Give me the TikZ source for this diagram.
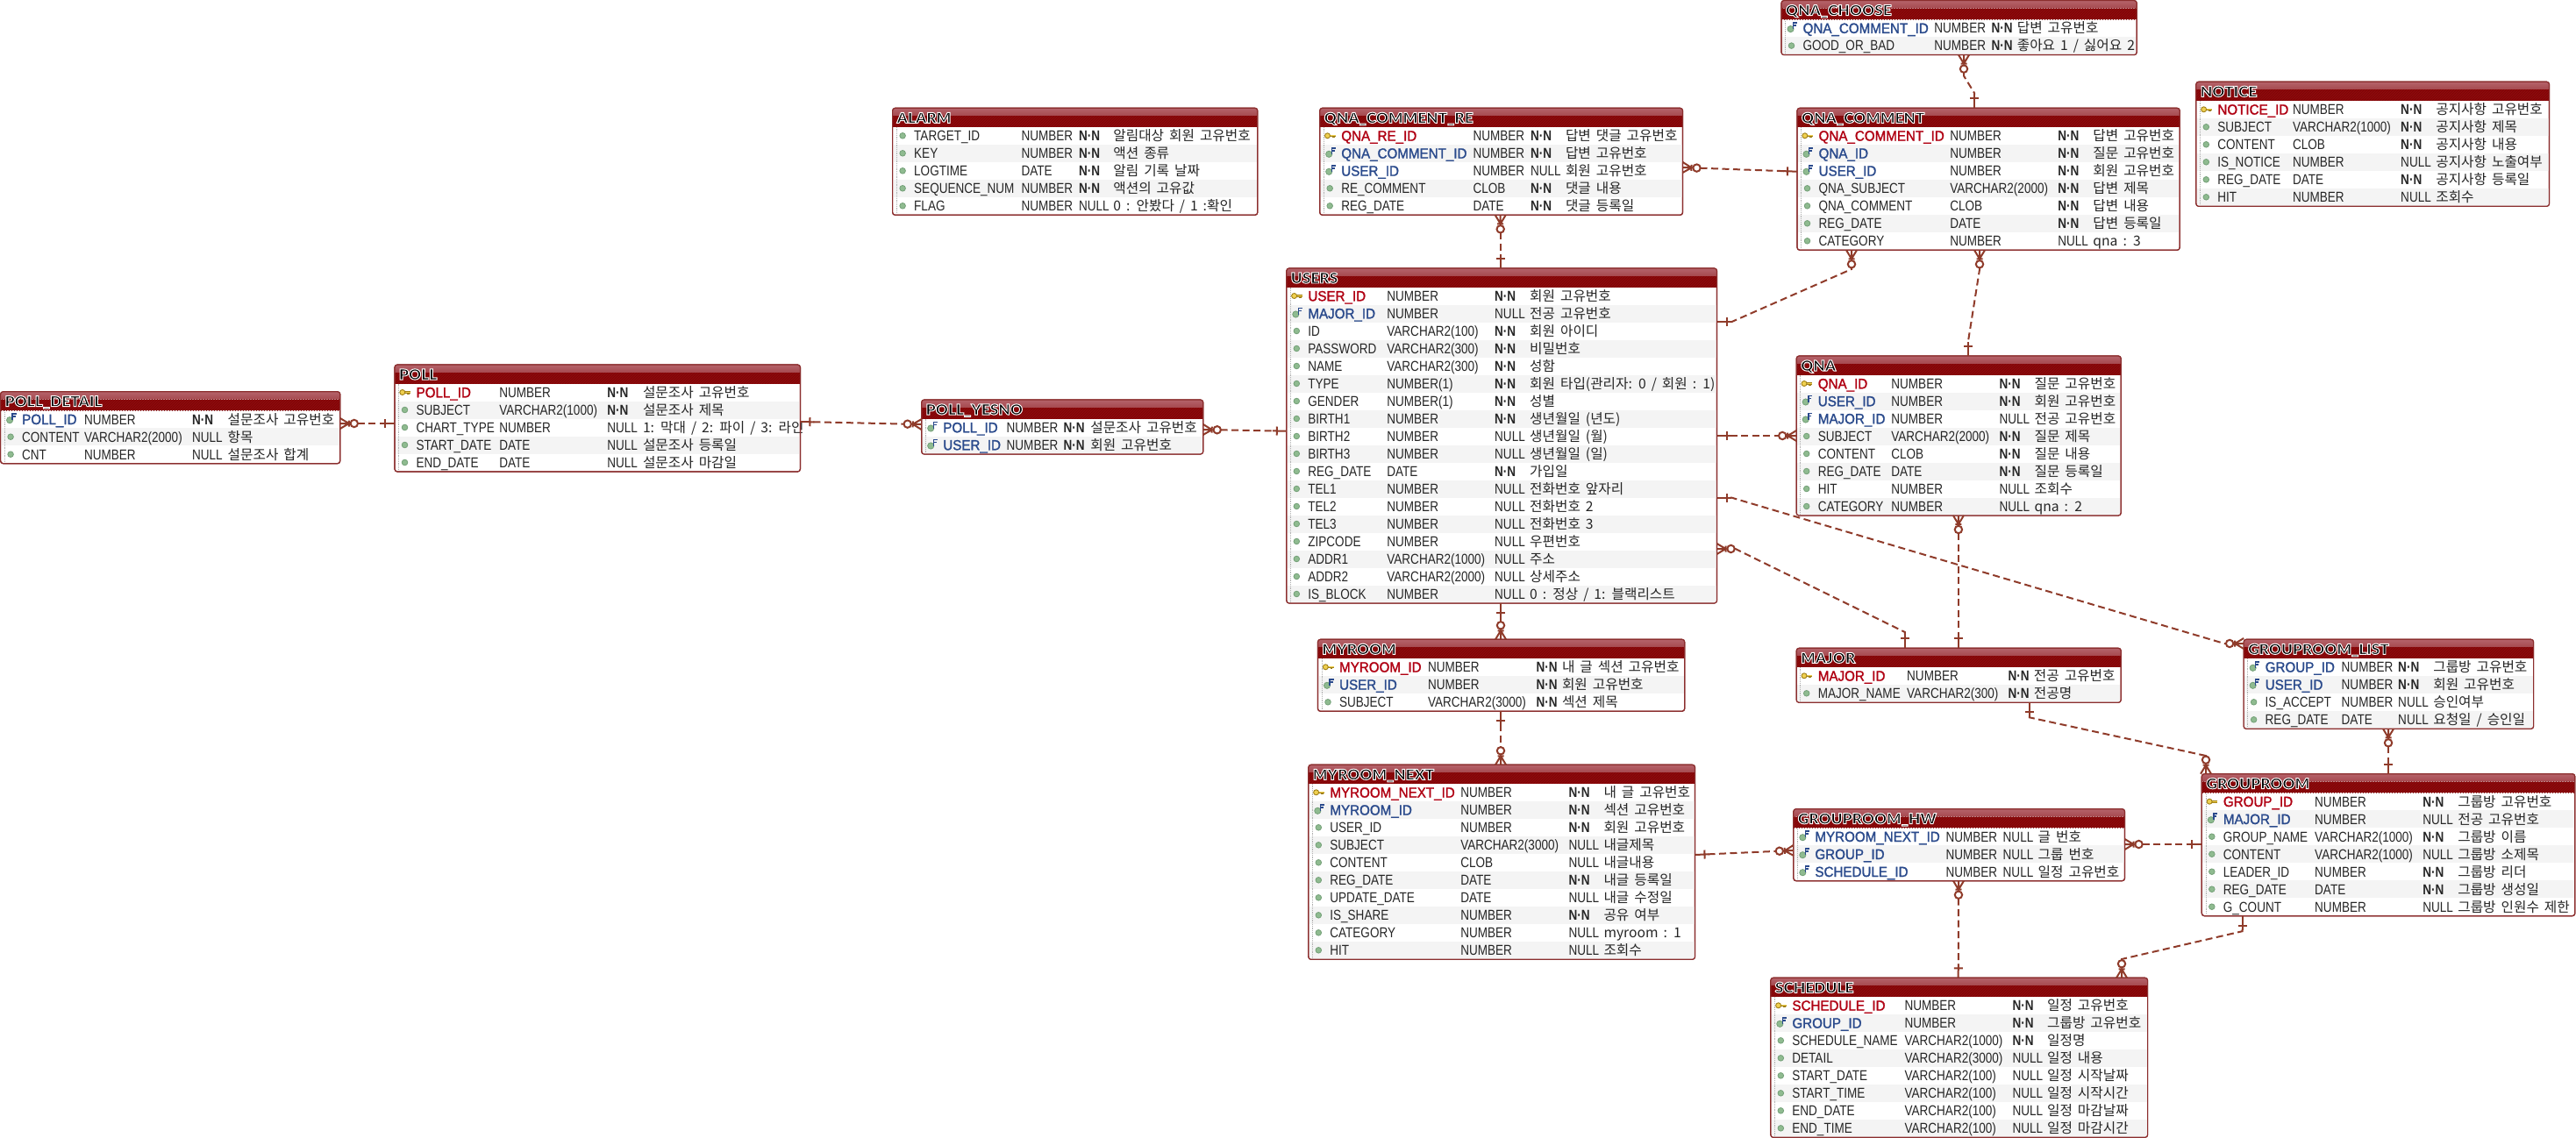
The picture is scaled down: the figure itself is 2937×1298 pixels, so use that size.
\documentclass[tikz,border=0pt]{standalone}
\usepackage{fontspec}
\usepackage{tikz}
\usetikzlibrary{patterns}
\setmainfont{Liberation Sans}
\newfontfamily\colfont[FakeStretch=.83]{Liberation Sans}
\newfontfamily\keyfont[FakeStretch=.93,FakeBold=1.5]{Liberation Sans}
\newfontfamily\korfont[WordSpace=1.7]{Noto Sans CJK KR}
\newfontfamily\titlefont[FakeStretch=1.05,FakeBold=6]{Lato Black}

\definecolor{tableline}{HTML}{8B2E2E}
\definecolor{relline}{HTML}{8F3B2A}
\definecolor{headtop}{HTML}{B5636A}
\definecolor{headmid}{HTML}{A5484E}
\definecolor{headdark}{HTML}{8E0A0C}
\definecolor{headhatch}{HTML}{7A0608}
\definecolor{rowgrey}{HTML}{F4F4F4}
\definecolor{pkred}{HTML}{B00012}
\definecolor{fkblue}{HTML}{2A4A8C}
\definecolor{ballgreen}{HTML}{8FBB90}
\definecolor{balledge}{HTML}{74A078}
\definecolor{keyyellow}{HTML}{EFD050}
\definecolor{keyedge}{HTML}{A08018}
\definecolor{rowdots}{HTML}{B0B0B0}

\newcommand{\NN}{{\bfseries N·N}}

% end marks of the relationship lines
\pgfdeclarearrow{
	name = erdone,
	setup code = {\pgfarrowssettipend{0pt}\pgfarrowssetlineend{-15pt}\pgfarrowssetvisualbackend{-15pt}\pgfarrowssetbackend{-15pt}},
	drawing code = {
		\pgfsetlinewidth{2pt}
		\pgfsetdash{}{0pt}
		\pgfpathmoveto{\pgfqpoint{0pt}{0pt}}\pgfpathlineto{\pgfqpoint{-16pt}{0pt}}
		\pgfpathmoveto{\pgfqpoint{-11pt}{5pt}}\pgfpathlineto{\pgfqpoint{-11pt}{-5pt}}
		\pgfusepathqstroke
	}
}
\pgfdeclarearrow{
	name = erdmany,
	setup code = {\pgfarrowssettipend{0pt}\pgfarrowssetlineend{-20pt}\pgfarrowssetvisualbackend{-20pt}\pgfarrowssetbackend{-20pt}},
	drawing code = {
		\pgfsetlinewidth{2pt}
		\pgfsetdash{}{0pt}
		\pgfpathmoveto{\pgfqpoint{0pt}{6pt}}\pgfpathlineto{\pgfqpoint{-10pt}{0pt}}\pgfpathlineto{\pgfqpoint{0pt}{-6pt}}
		\pgfpathmoveto{\pgfqpoint{0pt}{0pt}}\pgfpathlineto{\pgfqpoint{-11pt}{0pt}}
		\pgfpathmoveto{\pgfqpoint{-10pt}{3.5pt}}\pgfpathlineto{\pgfqpoint{-10pt}{-3.5pt}}
		\pgfusepathqstroke
		\pgfsetfillcolor{white}
		\pgfpathcircle{\pgfqpoint{-16pt}{0pt}}{4.2pt}
		\pgfusepathqfillstroke
	}
}

% icons in front of the columns
\newcommand{\iconcol}[2]{\fill[fill=ballgreen, draw=balledge, line width=.8pt] (#1+11.5,#2) circle (3.3);}
\newcommand{\iconfk}[2]{
	\fill[fill=ballgreen, draw=balledge, line width=.8pt] (#1+10.5,#2+1) circle (3.6);
	\draw[fkblue, line width=1.5pt] (#1+13.6,#2+1) -- (#1+13.6,#2-6) -- (#1+18,#2-6) (#1+13.6,#2-3) -- (#1+17,#2-3);
}
\newcommand{\iconpk}[2]{
	\draw[draw=keyedge, line width=2.6pt] (#1+10,#2) -- (#1+18,#2) (#1+15.5,#2) -- (#1+15.5,#2+2.2);
	\draw[draw=keyyellow, line width=1.1pt] (#1+10,#2) -- (#1+18,#2);
	\draw[fill=keyyellow, draw=keyedge, line width=.9pt] (#1+8.8,#2) circle (3);
}

% node name, title, left, top, right, x of type, x of null, x of comment, rows
\newcommand{\erdtable}[9]{
	\foreach \k/\n/\t/\u/\c [count=\i] in {#9} {\xdef\rowtotal{\i}}
	\pgfmathsetmacro\tablew{#5-#3}
	\pgfmathsetmacro\tableh{22+20*\rowtotal}
	\pgfmathsetmacro\headend{#4+21.5}
	\node[table box, minimum width=\tablew pt, minimum height=\tableh pt] (#1) at (#3,#4) {};
	\foreach \k/\n/\t/\u/\c [count=\i] in {#9} {
		\pgfmathsetmacro\rowtop{\headend+20*(\i-1)}
		\pgfmathsetmacro\rowmid{\rowtop+10}
		\pgfmathsetmacro\rowbase{\rowtop+15.8}
		\ifodd\i\else
			\fill[rowgrey] (#3+1,\rowtop) rectangle (#5-1,\rowtop+20);
		\fi
		\csname icon\k\endcsname{#3}{\rowmid}
		\node[\k name] (#1 n\i) at (#3+23.6,\rowbase) {\n};
		\node[col text] (#1 t\i) at (#6,\rowbase) {\t};
		\node[col text] (#1 u\i) at (#7,\rowbase) {\u};
		\node[kor text] (#1 c\i) at (#8,\rowbase) {\c};
	}
	\draw[rowdots, densely dotted, line width=.8pt] (#3+4.6,\headend) -- (#3+4.6,#4+\tableh-2);
	\path[top color=headtop, bottom color=headmid] (#3,#4+9) [rounded corners=3] -- (#3,#4) -- (#5,#4) [sharp corners] -- (#5,#4+9) -- cycle;
	\fill[headdark] (#3,#4+9) rectangle (#5,\headend);
	\fill[pattern=north east lines, pattern color=headhatch] (#3,#4+9) rectangle (#5,\headend);
	\node[title text] (#1 title) at (#3+4,#4+17) {\special{pdf:code 1 1 1 RG}#2};
	\draw[tableline, line width=1.2pt, rounded corners=3] (#3,#4) rectangle (#5,#4+\tableh);
}

\begin{document}
\begin{tikzpicture}[x=1pt, y=-1pt, line width=2pt]

	\tikzstyle{table box} = [draw=tableline, line width=1.2pt, rectangle, rounded corners=3, fill=white, anchor=north west, inner sep=0pt, outer sep=0pt]
	\tikzstyle{col text} = [anchor=base west, inner sep=0pt, font=\colfont\fontsize{16.3}{18}\selectfont, text=black!85]
	\tikzstyle{kor text} = [anchor=base west, inner sep=0pt, font=\korfont\fontsize{15.7}{18}\selectfont, text=black!85]
	\tikzstyle{colname} = [col text]
	\tikzstyle{pkname} = [col text, font=\keyfont\fontsize{16.3}{18}\selectfont, text=pkred]
	\tikzstyle{fkname} = [col text, font=\keyfont\fontsize{16.3}{18}\selectfont, text=fkblue]
	\tikzstyle{title text} = [anchor=base west, inner sep=0pt, text=black, font=\titlefont\fontsize{16.5}{18}\selectfont]
	\tikzstyle{line} = [draw=relline, line width=2pt, dash pattern=on 8pt off 4.5pt]

	\useasboundingbox (0,0) rectangle (2937,1298);

	\erdtable{poll detail}{POLL\_DETAIL}{0.6}{446.7}{387.8}{95}{218}{258.7}{
		fk/POLL\_ID/NUMBER/\NN/설문조사 고유번호,
		col/CONTENT/VARCHAR2(2000)/NULL/항목,
		col/CNT/NUMBER/NULL/설문조사 합계}
	\erdtable{poll}{POLL}{450}{416}{912.4}{568.3}{691.3}{732}{
		pk/POLL\_ID/NUMBER/\NN/설문조사 고유번호,
		col/SUBJECT/VARCHAR2(1000)/\NN/설문조사 제목,
		col/CHART\_TYPE/NUMBER/NULL/{1: 막대 / 2: 파이 / 3: 라인},
		col/START\_DATE/DATE/NULL/설문조사 등록일,
		col/END\_DATE/DATE/NULL/설문조사 마감일}
	\erdtable{poll yesno}{POLL\_YESNO}{1050.7}{456}{1371.7}{1146.7}{1211.7}{1242.3}{
		fk/POLL\_ID/NUMBER/\NN/설문조사 고유번호,
		fk/USER\_ID/NUMBER/\NN/회원 고유번호}
	\erdtable{alarm}{ALARM}{1017.6}{123.3}{1433.8}{1163.6}{1229}{1268.4}{
		col/TARGET\_ID/NUMBER/\NN/알림대상 회원 고유번호,
		col/KEY/NUMBER/\NN/액션 종류,
		col/LOGTIME/DATE/\NN/알림 기록 날짜,
		col/SEQUENCE\_NUM/NUMBER/\NN/액션의 고유값,
		col/FLAG/NUMBER/NULL/{0 : 안봤다 / 1 :확인}}
	\erdtable{qna comment re}{QNA\_COMMENT\_RE}{1504.7}{123.3}{1918.5}{1678.6}{1744}{1784}{
		pk/QNA\_RE\_ID/NUMBER/\NN/답변 댓글 고유번호,
		fk/QNA\_COMMENT\_ID/NUMBER/\NN/답변 고유번호,
		fk/USER\_ID/NUMBER/NULL/회원 고유번호,
		col/RE\_COMMENT/CLOB/\NN/댓글 내용,
		col/REG\_DATE/DATE/\NN/댓글 등록일}
	\erdtable{qna choose}{QNA\_CHOOSE}{2031}{0.6}{2436.2}{2204.4}{2269.5}{2298.8}{
		fk/QNA\_COMMENT\_ID/NUMBER/\NN/답변 고유번호,
		col/GOOD\_OR\_BAD/NUMBER/\NN/{좋아요 1 / 싫어요 2}}
	\erdtable{qna comment}{QNA\_COMMENT}{2049}{123.3}{2485.2}{2222.3}{2345.4}{2385.4}{
		pk/QNA\_COMMENT\_ID/NUMBER/\NN/답변 고유번호,
		fk/QNA\_ID/NUMBER/\NN/질문 고유번호,
		fk/USER\_ID/NUMBER/\NN/회원 고유번호,
		col/QNA\_SUBJECT/VARCHAR2(2000)/\NN/답변 제목,
		col/QNA\_COMMENT/CLOB/\NN/답변 내용,
		col/REG\_DATE/DATE/\NN/답변 등록일,
		col/CATEGORY/NUMBER/NULL/qna : 3}
	\erdtable{notice}{NOTICE}{2503.8}{93.3}{2906.5}{2613.1}{2736.2}{2776.3}{
		pk/NOTICE\_ID/NUMBER/\NN/공지사항 고유번호,
		col/SUBJECT/VARCHAR2(1000)/\NN/공지사항 제목,
		col/CONTENT/CLOB/\NN/공지사항 내용,
		col/IS\_NOTICE/NUMBER/NULL/공지사항 노출여부,
		col/REG\_DATE/DATE/\NN/공지사항 등록일,
		col/HIT/NUMBER/NULL/조회수}
	\erdtable{users}{USERS}{1466.8}{306}{1957.5}{1580.4}{1703.2}{1743.2}{
		pk/USER\_ID/NUMBER/\NN/회원 고유번호,
		fk/MAJOR\_ID/NUMBER/NULL/전공 고유번호,
		col/ID/VARCHAR2(100)/\NN/회원 아이디,
		col/PASSWORD/VARCHAR2(300)/\NN/비밀번호,
		col/NAME/VARCHAR2(300)/\NN/성함,
		col/TYPE/NUMBER(1)/\NN/{회원 타입(관리자: 0 / 회원 : 1)},
		col/GENDER/NUMBER(1)/\NN/성별,
		col/BIRTH1/NUMBER/\NN/생년월일 (년도),
		col/BIRTH2/NUMBER/NULL/생년월일 (월),
		col/BIRTH3/NUMBER/NULL/생년월일 (일),
		col/REG\_DATE/DATE/\NN/가입일,
		col/TEL1/NUMBER/NULL/전화번호 앞자리,
		col/TEL2/NUMBER/NULL/전화번호 2,
		col/TEL3/NUMBER/NULL/전화번호 3,
		col/ZIPCODE/NUMBER/NULL/우편번호,
		col/ADDR1/VARCHAR2(1000)/NULL/주소,
		col/ADDR2/VARCHAR2(2000)/NULL/상세주소,
		col/IS\_BLOCK/NUMBER/NULL/{0 : 정상 / 1: 블랙리스트}}
	\erdtable{qna}{QNA}{2048.2}{406}{2418.2}{2155.4}{2278.6}{2318.6}{
		pk/QNA\_ID/NUMBER/\NN/질문 고유번호,
		fk/USER\_ID/NUMBER/\NN/회원 고유번호,
		fk/MAJOR\_ID/NUMBER/NULL/전공 고유번호,
		col/SUBJECT/VARCHAR2(2000)/\NN/질문 제목,
		col/CONTENT/CLOB/\NN/질문 내용,
		col/REG\_DATE/DATE/\NN/질문 등록일,
		col/HIT/NUMBER/NULL/조회수,
		col/CATEGORY/NUMBER/NULL/qna : 2}
	\erdtable{major}{MAJOR}{2048.2}{739.3}{2418.2}{2173.2}{2288.6}{2317.9}{
		pk/MAJOR\_ID/NUMBER/\NN/전공 고유번호,
		col/MAJOR\_NAME/VARCHAR2(300)/\NN/전공명}
	\erdtable{myroom}{MYROOM}{1502.5}{729.3}{1920.7}{1627.1}{1750.7}{1780}{
		pk/MYROOM\_ID/NUMBER/\NN/내 글 섹션 고유번호,
		fk/USER\_ID/NUMBER/\NN/회원 고유번호,
		col/SUBJECT/VARCHAR2(3000)/\NN/섹션 제목}
	\erdtable{myroom next}{MYROOM\_NEXT}{1491.8}{872.3}{1932.5}{1664.3}{1787.5}{1827.5}{
		pk/MYROOM\_NEXT\_ID/NUMBER/\NN/내 글 고유번호,
		fk/MYROOM\_ID/NUMBER/\NN/섹션 고유번호,
		col/USER\_ID/NUMBER/\NN/회원 고유번호,
		col/SUBJECT/VARCHAR2(3000)/NULL/내글제목,
		col/CONTENT/CLOB/NULL/내글내용,
		col/REG\_DATE/DATE/\NN/내글 등록일,
		col/UPDATE\_DATE/DATE/NULL/내글 수정일,
		col/IS\_SHARE/NUMBER/\NN/공유 여부,
		col/CATEGORY/NUMBER/NULL/myroom : 1,
		col/HIT/NUMBER/NULL/조회수}
	\erdtable{grouproom list}{GROUPROOM\_LIST}{2558.1}{729.3}{2888.6}{2668.7}{2733.2}{2773.3}{
		fk/GROUP\_ID/NUMBER/\NN/그룹방 고유번호,
		fk/USER\_ID/NUMBER/\NN/회원 고유번호,
		col/IS\_ACCEPT/NUMBER/NULL/승인여부,
		col/REG\_DATE/DATE/NULL/{요청일 / 승인일}}
	\erdtable{grouproom}{GROUPROOM}{2510.3}{882.7}{2935.8}{2638.2}{2761.3}{2801.3}{
		pk/GROUP\_ID/NUMBER/\NN/그룹방 고유번호,
		fk/MAJOR\_ID/NUMBER/NULL/전공 고유번호,
		col/GROUP\_NAME/VARCHAR2(1000)/\NN/그룹방 이름,
		col/CONTENT/VARCHAR2(1000)/NULL/그룹방 소제목,
		col/LEADER\_ID/NUMBER/\NN/그룹방 리더,
		col/REG\_DATE/DATE/\NN/그룹방 생성일,
		col/G\_COUNT/NUMBER/NULL/그룹방 인원수 제한}
	\erdtable{grouproom hw}{GROUPROOM\_HW}{2044.8}{922.7}{2422.5}{2217.5}{2282.7}{2322.7}{
		fk/MYROOM\_NEXT\_ID/NUMBER/NULL/글 번호,
		fk/GROUP\_ID/NUMBER/NULL/그룹 번호,
		fk/SCHEDULE\_ID/NUMBER/NULL/일정 고유번호}
	\erdtable{schedule}{SCHEDULE}{2018.8}{1115.3}{2448.6}{2170.6}{2293.6}{2333.1}{
		pk/SCHEDULE\_ID/NUMBER/\NN/일정 고유번호,
		fk/GROUP\_ID/NUMBER/\NN/그룹방 고유번호,
		col/SCHEDULE\_NAME/VARCHAR2(1000)/\NN/일정명,
		col/DETAIL/VARCHAR2(3000)/NULL/일정 내용,
		col/START\_DATE/VARCHAR2(100)/NULL/일정 시작날짜,
		col/START\_TIME/VARCHAR2(100)/NULL/일정 시작시간,
		col/END\_DATE/VARCHAR2(100)/NULL/일정 마감날짜,
		col/END\_TIME/VARCHAR2(100)/NULL/일정 마감시간}

	\path [line, erdmany-erdone] ([yshift=-36.3pt]poll detail.north east) -- ([yshift=-67pt]poll.north west);
	\path [line, erdone-erdmany] ([yshift=-65pt]poll.north east) -- ([yshift=-28pt]poll yesno.north west);
	\path [line, erdmany-erdone] ([yshift=-34pt]poll yesno.north east) -- ([yshift=-185.7pt]users.north west);
	\path [line, erdmany-erdone] ([xshift=206pt]qna comment re.south west) -- ([xshift=243.9pt]users.north west);
	\path [line, erdmany-erdone] ([yshift=-67.7pt]qna comment re.north east) -- ([yshift=-72.4pt]qna comment.north west);
	\path [line, erdmany-erdone] ([xshift=208pt]qna choose.south west) -- +(0,24) -- (2251,106) -- ([xshift=202pt]qna comment.north west);
	\path [line, erdone-erdmany] ([yshift=-61pt]users.north east) -- +(17,0) -- (2111,307) -- ([xshift=62pt]qna comment.south west);
	\path [line, erdmany-erdone] ([xshift=208pt]qna comment.south west) -- +(0,22) -- (2244,389) -- ([xshift=195.8pt]qna.north west);
	\path [line, erdone-erdmany] ([yshift=-191pt]users.north east) -- ([yshift=-91pt]qna.north west);
	\path [line, erdone-erdmany] ([yshift=-261.7pt]users.north east) -- +(17,0) -- (2536,734) -- ([yshift=-4.7pt]grouproom list.north west);
	\path [line, erdmany-erdone] ([yshift=-320pt]users.north east) -- +(21,0) -- (2171.8,721) -- ([xshift=123.6pt]major.north west);
	\path [line, erdone-erdmany] ([xshift=244.2pt]users.south west) -- ([xshift=208.5pt]myroom.north west);
	\path [line, erdone-erdmany] ([xshift=208.5pt]myroom.south west) -- ([xshift=219.2pt]myroom next.north west);
	\path [line, erdone-erdmany] ([yshift=-102.7pt]myroom next.north east) -- ([yshift=-47.3pt]grouproom hw.north west);
	\path [line, erdmany-erdone] ([xshift=184.7pt]qna.south west) -- ([xshift=184.7pt]major.north west);
	\path [line, erdone-erdmany] ([xshift=265.6pt]major.south west) -- +(0,17) -- (2515,862) -- ([xshift=4.7pt]grouproom.north west);
	\path [line, erdmany-erdone] ([xshift=164.9pt]grouproom list.south west) -- ([xshift=212.7pt]grouproom.north west);
	\path [line, erdmany-erdone] ([yshift=-40.3pt]grouproom hw.north east) -- ([yshift=-80.3pt]grouproom.north west);
	\path [line, erdmany-erdone] ([xshift=188.2pt]grouproom hw.south west) -- ([xshift=213.9pt]schedule.north west);
	\path [line, erdone-erdmany] ([xshift=46.2pt]grouproom.south west) -- +(0,17.5) -- (2419,1094) -- ([xshift=400.2pt]schedule.north west);

\end{tikzpicture}
\end{document}
